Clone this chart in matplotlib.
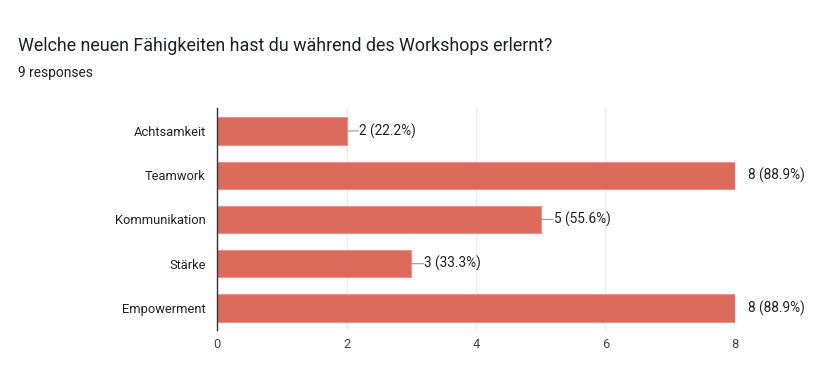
import matplotlib.pyplot as plt

categories = ["Achtsamkeit", "Teamwork", "Kommunikation", "Stärke", "Empowerment"]
counts = [2, 8, 5, 3, 8]
total = 9
xticks = [0, 2, 4, 6, 8]

plt.rcParams['font.family'] = ['Roboto', 'DejaVu Sans']

fig = plt.figure(figsize=(8.17, 3.82), dpi=100)
ax = fig.add_axes([217 / 817, 1 - 330 / 382, (735 - 217) / 817, (330 - 108) / 382])

ypos = list(range(len(categories)))
ax.barh(ypos, counts, height=0.62, color="#db6a5b", edgecolor="#e8968b", linewidth=0.8, zorder=3)

ax.set_ylim(len(categories) - 0.5, -0.52)
ax.set_xlim(0, 8)
ax.set_yticks(ypos)
ax.set_yticklabels(categories, fontsize=9.3, color="#222222")
ax.set_xticks(xticks)
ax.set_xticklabels([str(t) for t in xticks], fontsize=9.3, color="#444444")
ax.tick_params(axis="both", length=0, pad=6)
ax.tick_params(axis="y", pad=8)

ax.grid(axis="x", color="#ebebeb", linewidth=1, zorder=0)
for s in ["top", "right", "bottom"]:
    ax.spines[s].set_visible(False)
ax.spines["left"].set_color("#333333")
ax.spines["left"].set_linewidth(1)
ax.spines["left"].set_zorder(4)

# value labels with leader line
for y, c in zip(ypos, counts):
    pct = c / total * 100
    if c < max(counts):
        ax.annotate("", xy=(c, y), xytext=(c + 0.19, y),
                    arrowprops=dict(arrowstyle="-", color="#999999", lw=0.8,
                                    shrinkA=0, shrinkB=0),
                    annotation_clip=False)
    ax.text(c + 0.2, y, f"{c} ({pct:.1f}%)", va="center", ha="left",
            fontsize=9.8, color="#222222", clip_on=False)

fig.text(18 / 817, 1 - 46 / 382, "Welche neuen Fähigkeiten hast du während des Workshops erlernt?",
         fontsize=12.9, color="#202124", va="center", ha="left")
fig.text(18 / 817, 1 - 73 / 382, "9 responses", fontsize=9.9, color="#202124",
         va="center", ha="left")

fig.savefig("out.png", dpi=100)
